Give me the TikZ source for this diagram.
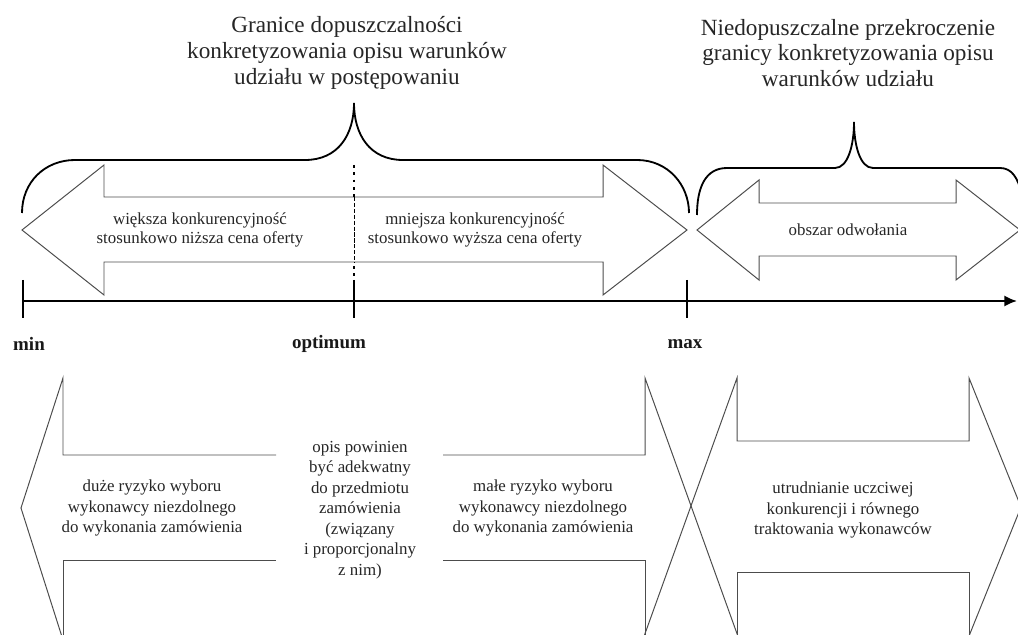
\documentclass[tikz,border=0pt]{standalone}
\usepackage{fontspec}
\setmainfont{Liberation Serif}
\usetikzlibrary{arrows.meta}
\begin{document}
\begin{tikzpicture}[x=0.025cm,y=-0.025cm,
  shapeline/.style={draw=black!70, line width=0.7pt, line join=miter},
  bracepath/.style={draw=black, line width=1.3pt},
  titletext/.style={align=center, font=\fontsize{16.5}{18.3}\selectfont, text=black!85},
  lbl/.style={align=center, font=\fontsize{12}{13.5}\selectfont, text=black!85},
  blbl/.style={align=center, font=\fontsize{12}{14.6}\selectfont, text=black!85},
  tickmark/.style={draw=black, line width=2pt},
  axislbl/.style={font=\bfseries\fontsize{13.5}{16}\selectfont, text=black!90}
]
\useasboundingbox (0,0) rectangle (1018,635);

% titles
\node[titletext] (t1) at (347,53) {Granice dopuszczalności\\konkretyzowania opisu warunków\\udziału w postępowaniu};
\node[titletext] (t2) at (848,53) {Niedopuszczalne przekroczenie\\granicy konkretyzowania opisu\\warunków udziału};

% braces
\coordinate (b1tip) at (354,103);
\coordinate (b2tip) at (854,122);
\draw[bracepath] (22,213) .. controls (22,182) and (45,160) .. (75,160) -- (305,160)
  .. controls (338,160) and (354,135) .. (b1tip)
  .. controls (354,135) and (370,160) .. (403,160) -- (637,160)
  .. controls (668,160) and (689,185) .. (689,213);
\draw[bracepath] (697,215) .. controls (697,188) and (705,168) .. (727,168) -- (835,168)
  .. controls (848,168) and (854,145) .. (b2tip)
  .. controls (854,145) and (860,168) .. (873,168) -- (1000,168)
  .. controls (1012,168) and (1018,178) .. (1022,195);

% top double arrow 1
\draw[shapeline] (22,230) -- (104,165) -- (104,197) -- (603,197) -- (603,165) -- (687,230)
  -- (603,295) -- (603,262) -- (104,262) -- (104,295) -- cycle;
% top double arrow 2
\draw[shapeline] (697,230) -- (759,180) -- (759,203) -- (956,203) -- (956,180) -- (1020,230)
  -- (956,280) -- (956,256) -- (759,256) -- (759,280) -- cycle;

% optimum divider
\draw[line width=1.6pt, dash pattern=on 2pt off 3.2pt] (354,165) -- (354,197);
\draw[line width=0.7pt, dash pattern=on 3pt off 1.2pt] (354,197) -- (354,262);
\draw[line width=1.6pt, dash pattern=on 2pt off 3.2pt] (354,266) -- (354,281);

\node[lbl] (w1) at (200,229.5) {większa konkurencyjność\\stosunkowo niższa cena oferty};
\node[lbl] (w2) at (475,229.5) {mniejsza konkurencyjność\\stosunkowo wyższa cena oferty};
\node[lbl] (w3) at (848,230) {obszar odwołania};

% axis
\coordinate (amin) at (23,301);
\coordinate (aopt) at (354,301);
\coordinate (amax) at (687,301);
\coordinate (aend) at (1017,301);
\draw[line width=1.6pt, -{Latex[length=9pt,width=8pt]}] (amin) -- (aend);
\draw[tickmark] (23,280) -- (23,318);
\draw[tickmark] (354,280) -- (354,318);
\draw[tickmark] (687,280) -- (687,318);
\node[axislbl] (lmin) at (29,344) {min};
\node[axislbl] (lopt) at (329,344) {optimum};
\node[axislbl] (lmax) at (685,344) {max};

% bottom left shape
\draw[shapeline] (276,455) -- (63,455) -- (63,378) -- (21,508) -- (63,640);
\draw[shapeline] (63,640) -- (63,560) -- (276,560);
\draw[shapeline] (443,455) -- (645,455) -- (645,378) -- (740,642);
\draw[shapeline] (443,560) -- (645,560) -- (645,642);
% bottom right shape
\draw[shapeline] (642,642) -- (737,378) -- (737,441) -- (969,441) -- (969,378) -- (1021,507) -- (969,636);
\draw[shapeline] (737,642) -- (737,572) -- (969,572) -- (969,642);

\node[blbl] (d1) at (152,508) {duże ryzyko wyboru\\wykonawcy niezdolnego\\do wykonania zamówienia};
\node[blbl] (d2) at (360,510) {opis powinien\\być adekwatny\\do przedmiotu\\zamówienia\\(związany\\i proporcjonalny\\z nim)};
\node[blbl] (d3) at (543,508) {małe ryzyko wyboru\\wykonawcy niezdolnego\\do wykonania zamówienia};
\node[blbl] (d4) at (843,510) {utrudnianie uczciwej\\konkurencji i równego\\traktowania wykonawców};
\end{tikzpicture}
\end{document}
